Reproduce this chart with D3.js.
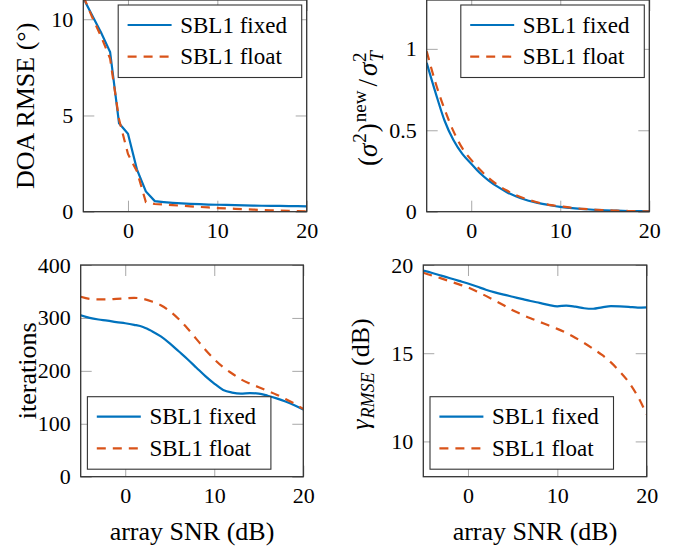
<!DOCTYPE html>
<html>
<head>
<meta charset="utf-8">
<script src="https://cdn.jsdelivr.net/npm/d3@7"></script>
<style>
  body { margin: 0; background: #fff; }
  svg { display: block; }
  text { font-family: "Liberation Serif", "Times New Roman", serif; fill: #000; }
</style>
</head>
<body>
<div id="viz"></div>
<script>
// array SNR (dB), shared by all four panels
var snr = [-5, -4, -3, -2, -1, 0, 1, 2, 3, 4, 5, 6, 7, 8, 9, 10, 11, 12, 13, 14, 15, 16, 17, 18, 19, 20];

var seriesNames = ['SBL1 fixed', 'SBL1 float'];

// DOA RMSE (deg)
var rmseFixed = [11.1, 10.2, 9.3, 8.3, 4.6, 4.05, 2.2, 1.05, 0.55, 0.5, 0.46, 0.43, 0.41, 0.39, 0.37, 0.36, 0.35, 0.34, 0.33, 0.32, 0.31, 0.3, 0.3, 0.29, 0.29, 0.28];
var rmseFloat = [11.2, 10.1, 9.1, 7.95, 4.8, 3.0, 2.1, 0.5, 0.4, 0.37, 0.34, 0.31, 0.28, 0.25, 0.22, 0.19, 0.17, 0.15, 0.13, 0.11, 0.09, 0.07, 0.06, 0.04, 0.03, 0.02];

// (sigma^2)^new / sigma_T^2
var sigFixed = [0.914, 0.73, 0.56, 0.44, 0.355, 0.295, 0.236, 0.19, 0.152, 0.12, 0.095, 0.075, 0.06, 0.048, 0.038, 0.03, 0.024, 0.019, 0.015, 0.011, 0.009, 0.007, 0.005, 0.004, 0.003, 0.002];
var sigFloat = [0.985, 0.79, 0.63, 0.495, 0.39, 0.318, 0.257, 0.205, 0.163, 0.13, 0.102, 0.081, 0.064, 0.05, 0.04, 0.033, 0.026, 0.02, 0.016, 0.012, 0.009, 0.007, 0.005, 0.004, 0.003, 0.002];

// iterations
var iterFixed = [305, 300, 297, 295, 292, 290, 287, 283, 275, 265, 252, 237, 222, 206, 190, 176, 164, 159, 157, 158, 157, 153, 148, 142, 135, 127];
var iterFloat = [340, 336, 335, 335, 336, 337, 338, 336, 331, 324, 313, 298, 280, 260, 240, 222, 207, 195, 184, 176, 169, 162, 155, 147, 138, 128];

// gamma_RMSE (dB)
var gamFixed = [19.68, 19.55, 19.4, 19.25, 19.1, 18.95, 18.78, 18.6, 18.45, 18.32, 18.2, 18.08, 17.96, 17.85, 17.74, 17.66, 17.7, 17.64, 17.55, 17.52, 17.6, 17.67, 17.66, 17.63, 17.58, 17.6];
var gamFloat = [19.56, 19.4, 19.24, 19.07, 18.9, 18.73, 18.5, 18.25, 17.99, 17.72, 17.43, 17.2, 16.98, 16.78, 16.58, 16.38, 16.15, 15.88, 15.58, 15.25, 14.9, 14.48, 13.95, 13.35, 12.55, 11.54];

var xTicks = [0, 10, 20];

var width = 686,
    height = 548,
    colors = ['#0072bd', '#d95319'],
    dashes = [null, '9,7'];

var panels = [
    { series: [rmseFixed, rmseFloat], ydomain: [0, 11], yticks: [0, 5, 10],
      left: 83.3, right: 306.7, top: 0, bottom: 211.7, legend: 'tr', xlabel: false },
    { series: [sigFixed, sigFloat], ydomain: [0, 1.3], yticks: [0, 0.5, 1],
      left: 426.7, right: 649.3, top: 0, bottom: 211.7, legend: 'tr', xlabel: false },
    { series: [iterFixed, iterFloat], ydomain: [0, 400], yticks: [0, 100, 200, 300, 400],
      left: 80.7, right: 303.3, top: 265, bottom: 476.7, legend: 'bl', xlabel: true },
    { series: [gamFixed, gamFloat], ydomain: [8, 20], yticks: [10, 15, 20],
      left: 423.3, right: 646.7, top: 265, bottom: 476.7, legend: 'bl', xlabel: true }
];

var svg = d3.select('#viz').append('svg')
    .attr('width', width)
    .attr('height', height);

panels.forEach(function(p, pi) {
    var w = p.right - p.left,
        h = p.bottom - p.top;

    var xScale = d3.scaleLinear().domain([-5, 20]).range([0, w]);
    var yScale = d3.scaleLinear().domain(p.ydomain).range([h, 0]);
    var fmt = d3.format('~g');

    var g = svg.append('g').attr('transform', 'translate(' + p.left + ',' + p.top + ')');

    g.append('clipPath').attr('id', 'clip' + pi)
        .append('rect').attr('width', w).attr('height', h);

    // inward ticks on all four sides
    var axes = [
        [d3.axisBottom(xScale).tickValues(xTicks).tickSize(-11).tickPadding(10.5).tickFormat(fmt), 'translate(0,' + h + ')'],
        [d3.axisTop(xScale).tickValues(xTicks).tickSize(-11).tickFormat(''), null],
        [d3.axisLeft(yScale).tickValues(p.yticks).tickSize(-11).tickPadding(10).tickFormat(fmt), null],
        [d3.axisRight(yScale).tickValues(p.yticks).tickSize(-11).tickFormat(''), 'translate(' + w + ',0)']
    ];
    axes.forEach(function(a) {
        var ag = g.append('g').call(a[0])
            .attr('font-family', null)
            .attr('font-size', 22);
        if (a[1]) ag.attr('transform', a[1]);
        ag.select('.domain').remove();
        ag.selectAll('line').attr('stroke', '#a8a8a8').attr('stroke-width', 1);
        ag.selectAll('text').attr('fill', '#000');
    });

    var line = d3.line()
        .x(function(d, i) { return xScale(snr[i]); })
        .y(function(d) { return yScale(d); })
        .curve(pi === 0 ? d3.curveLinear : d3.curveMonotoneX);

    g.append('g').attr('clip-path', 'url(#clip' + pi + ')')
      .selectAll('path').data(p.series)
      .enter().append('path')
        .attr('d', line)
        .attr('fill', 'none')
        .attr('stroke', function(d, i) { return colors[i]; })
        .attr('stroke-width', 2.2)
        .attr('stroke-dasharray', function(d, i) { return dashes[i]; });

    g.append('rect')
        .attr('width', w)
        .attr('height', h)
        .attr('fill', 'none')
        .attr('stroke', '#333')
        .attr('stroke-width', 1.3);

    // legend
    var lw = 183.5, lh = 72.5;
    var lx = p.legend === 'tr' ? w - 5 - lw : 6.7;
    var ly = p.legend === 'tr' ? 5 : h - 7.5 - lh;
    var lg = g.append('g').attr('transform', 'translate(' + lx + ',' + ly + ')');
    lg.append('rect')
        .attr('width', lw)
        .attr('height', lh)
        .attr('fill', '#fff')
        .attr('stroke', '#333')
        .attr('stroke-width', 1.1);
    seriesNames.forEach(function(name, i) {
        var cy = 20 + i * 31.7;
        lg.append('line')
            .attr('x1', 9.4).attr('x2', 53.4)
            .attr('y1', cy).attr('y2', cy)
            .attr('stroke', colors[i])
            .attr('stroke-width', 2.2)
            .attr('stroke-dasharray', dashes[i]);
        lg.append('text')
            .attr('x', 62)
            .attr('y', cy + 7.6)
            .attr('font-size', 23)
            .text(name);
    });

    if (p.xlabel) {
        svg.append('text')
            .attr('x', p.left + w / 2)
            .attr('y', 540)
            .attr('text-anchor', 'middle')
            .attr('font-size', 26)
            .text('array SNR (dB)');
    }
});

// y axis labels
svg.append('text')
    .attr('transform', 'translate(34,105.8) rotate(-90)')
    .attr('text-anchor', 'middle')
    .attr('font-size', 26)
    .text('DOA RMSE (\u00b0)');

var sl = svg.append('text')
    .attr('transform', 'translate(377,166) rotate(-90)')
    .attr('font-size', 27);
sl.append('tspan').text('(');
sl.append('tspan').attr('font-style', 'italic').text('\u03c3');
sl.append('tspan').attr('dy', -11).attr('dx', 1).attr('font-size', 19).text('2');
sl.append('tspan').attr('dy', 11).attr('dx', 1).text(')');
sl.append('tspan').attr('dy', -11).attr('dx', 1).attr('font-size', 19).text('new');
sl.append('tspan').attr('dy', 11).attr('dx', 4).text('/');
sl.append('tspan').attr('dx', 3).attr('font-style', 'italic').text('\u03c3');
sl.append('tspan').attr('dy', 6).attr('dx', 1).attr('font-size', 19).attr('font-style', 'italic').text('T');
sl.append('tspan').attr('dy', -17).attr('dx', -11).attr('font-size', 19).text('2');

svg.append('text')
    .attr('transform', 'translate(36,370.8) rotate(-90)')
    .attr('text-anchor', 'middle')
    .attr('font-size', 26)
    .text('iterations');

var gl = svg.append('text')
    .attr('transform', 'translate(369,374) rotate(-90)')
    .attr('text-anchor', 'middle')
    .attr('font-size', 26);
gl.append('tspan').attr('font-style', 'italic').text('\u03b3');
gl.append('tspan').attr('dy', 5).attr('dx', 1).attr('font-size', 18).attr('font-style', 'italic').text('RMSE');
gl.append('tspan').attr('dy', -5).text(' (dB)');
</script>
</body>
</html>
